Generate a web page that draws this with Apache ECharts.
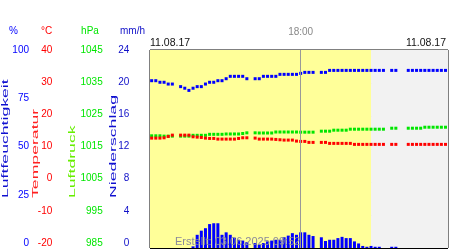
<!DOCTYPE html>
<html><head><meta charset="utf-8">
<script src="https://cdn.jsdelivr.net/npm/echarts@6/dist/echarts.min.js"></script>
<style>html,body{margin:0;padding:0;background:#fff}#c{width:450px;height:250px}</style>
</head><body><div id="c"></div>
<script>
// ---- data (10-minute steps from 12:00, index 0..71) ----
const dateLabel = '11.08.17';
const midLabel = '18:00';
const midIndex = 36;       // 18:00
const sunsetIndex = 53;    // ~20:50
const createdText = 'Erstellt: 03.06.2025 09:52';
const N = null;

const humidity = [84.5,84.5,83.7,83.7,82.8,82.8,N,81.5,80.7,79.6,80.7,81.5,81.5,82.8,83.7,83.7,84.5,84.5,85.5,86.7,86.7,86.7,86.7,85.5,N,85.5,85.5,86.7,86.7,86.7,86.7,87.7,87.7,87.7,87.7,87.7,
  88.2,88.7,88.7,88.7,N,88.7,88.7,89.7,89.7,89.7,89.7,89.7,89.7,89.7,89.7,89.7,89.7,89.7,89.7,89.7,89.7,N,89.7,89.7,N,N,89.7,89.7,89.7,89.7,89.7,89.7,89.7,89.7,89.7,89.7];
const temperature = [13.3,13.3,13.3,13.4,13.8,14.2,N,14.2,14.2,14.2,13.7,13.6,13.5,13.3,13.2,13.2,13.0,13.0,13.0,13.0,13.0,13.2,13.4,13.4,N,13.3,13.0,13.0,13.0,13.0,12.9,12.8,12.7,12.7,12.7,12.4,
  12.3,12.3,12.0,12.0,N,12.0,12.0,11.7,11.7,11.7,11.7,11.7,11.7,11.4,11.4,11.4,11.4,11.4,11.4,11.4,11.4,N,11.4,11.4,N,N,11.4,11.4,11.4,11.4,11.4,11.4,11.4,11.4,11.4,11.4];
const pressure = [1019.0,1019.0,1019.0,1018.9,1018.9,1018.9,N,1018.9,1018.9,1018.9,1019.15,1019.15,1019.15,1019.15,1019.45,1019.45,1019.45,1019.45,1019.55,1019.55,1019.55,1019.55,1019.7,1019.9,N,1019.9,1019.85,1019.85,1019.85,1019.85,1020.15,1020.15,1020.15,1020.15,1020.15,1020.15,
  1020.1,1020.1,1020.1,1020.1,N,1020.4,1020.4,1020.4,1020.7,1020.7,1020.7,1020.7,1021.0,1021.0,1021.0,1021.0,1021.0,1021.0,1021.0,1021.0,1021.0,N,1021.3,1021.3,N,N,1021.3,1021.3,1021.3,1021.3,1021.6,1021.6,1021.6,1021.6,1021.6,1021.6];
const precipitation = [0,0,0,0,0,0,N,0,0,0,0.2,1.6,2.1,2.4,2.9,3.0,3.0,1.6,1.9,1.6,1.25,1.0,0.9,0.7,N,0.6,0.4,0.6,0.8,0.9,1.0,1.0,1.3,1.5,1.8,1.6,
  1.9,1.9,1.6,1.45,N,1.3,0.85,1.0,1.0,1.2,1.35,1.2,1.2,0.8,0.55,0.25,0.15,0.25,0.15,0.15,0,N,0.15,0.15,N,N,0,0,0,0,0,0,0,0,0,0];

const humidityTicks = [0,25,50,75,100];
const temperatureTicks = [-20,-10,0,10,20,30,40];
const pressureTicks = [985,995,1005,1015,1025,1035,1045];
const precipitationTicks = [0,4,8,12,16,20,24];

// ---- chart ----
const FONT = 'Liberation Sans, Arial, sans-serif';
const BLUE = '#0000ff', RED = '#ff0000', GREEN = '#00e600', DBLUE = '#1010c8';
const xMin = -0.4, xMax = humidity.length - 0.4;
const pts = arr => arr.map((v, i) => [i, v == null ? '-' : v]);
const first = a => a[0], last = a => a[a.length - 1];

function labelAxis(ticks, interval, offset, color, fmt) {
  return {
    type: 'value', gridIndex: 1, position: 'left', offset: offset,
    min: first(ticks), max: last(ticks), interval: interval,
    axisLine: {show: false}, axisTick: {show: false}, splitLine: {show: false},
    axisLabel: {margin: 0, fontSize: 10, fontFamily: FONT, color: color,
      formatter: fmt || (v => String(v))}
  };
}
function dataAxis(ticks, extra) {
  return Object.assign({type: 'value', gridIndex: 0, min: first(ticks), max: last(ticks), show: false}, extra || {});
}

const chart = echarts.init(document.getElementById('c'), null, {renderer: 'canvas', width: 450, height: 250});
const square = (name, arr, color, yi) => ({
  name, type: 'scatter', xAxisIndex: 0, yAxisIndex: yi, data: pts(arr),
  symbol: 'rect', symbolSize: 3, itemStyle: {color: color, opacity: 1}, z: 3, silent: true
});

function rotTitle(text, x, color) {
  return {type: 'text', x: x, y: 198, rotation: Math.PI / 2, scaleX: 1.96, scaleY: 1,
    style: {text: text, fill: color, font: '9px ' + FONT, fontSize: 9, fontFamily: FONT,
      textAlign: 'left', textVerticalAlign: 'middle', align: 'left', verticalAlign: 'middle'}};
}
function txt(text, x, y, color, size, align) {
  return {type: 'text', x: x, y: y,
    style: {text: text, fill: color, font: size + 'px ' + FONT, fontSize: size, fontFamily: FONT,
      textAlign: align, textVerticalAlign: 'middle', align: align, verticalAlign: 'middle'}};
}

chart.setOption({
  animation: false,
  grid: [
    {left: 150, top: 50, width: 298, height: 198, show: true, borderColor: '#000', borderWidth: 1, backgroundColor: 'transparent'},
    {left: 150, top: 50, width: 298, height: 193, show: false}
  ],
  xAxis: [
    {type: 'value', gridIndex: 0, min: xMin, max: xMax, show: false},
    {type: 'value', gridIndex: 1, min: 0, max: 1, show: false}
  ],
  yAxis: [
    dataAxis(humidityTicks),
    dataAxis(temperatureTicks),
    dataAxis(pressureTicks),
    dataAxis(precipitationTicks, {show: true, interval: 4, axisLine: {show: false}, axisTick: {show: false},
      axisLabel: {show: false}, splitLine: {show: true, lineStyle: {color: '#000', width: 1}}}),
    labelAxis(humidityTicks, 25, 121, BLUE),
    labelAxis(temperatureTicks, 10, 97.7, RED),
    labelAxis(pressureTicks, 5, 47.3, GREEN, v => pressureTicks.indexOf(v) >= 0 ? String(v) : ''),
    labelAxis(precipitationTicks, 4, 20.7, DBLUE)
  ],
  series: [
    {type: 'line', xAxisIndex: 0, yAxisIndex: 0, data: [], z: -1, silent: true,
      markArea: {silent: true, data: [
        [{xAxis: xMin, itemStyle: {color: '#ffff99'}}, {xAxis: sunsetIndex}],
        [{xAxis: sunsetIndex, itemStyle: {color: '#f2f2f2'}}, {xAxis: xMax}]
      ]}},
    {name: 'Niederschlag', type: 'bar', xAxisIndex: 0, yAxisIndex: 3, data: pts(precipitation),
      barWidth: 3, itemStyle: {color: BLUE}, z: 2, silent: true,
      markLine: {silent: true, symbol: 'none', lineStyle: {color: '#999', width: 1, type: 'solid'},
        label: {show: true, position: 'end', formatter: midLabel, color: '#888', fontSize: 10, fontFamily: FONT, distance: 13},
        data: [{xAxis: midIndex}]}},
    square('Luftdruck', pressure, GREEN, 2),
    square('Temperatur', temperature, RED, 1),
    square('Luftfeuchtigkeit', humidity, BLUE, 0)
  ],
  graphic: [
    txt('%', 13.5, 31, BLUE, 10, 'center'),
    txt('°C', 46.5, 31, RED, 10, 'center'),
    txt('hPa', 90, 31, GREEN, 10, 'center'),
    txt('mm/h', 132.5, 31, DBLUE, 10, 'center'),
    rotTitle('Luftfeuchtigkeit', 5.5, '#1010d0'),
    rotTitle('Temperatur', 36, '#ff2020'),
    rotTitle('Luftdruck', 72.5, '#66ee00'),
    rotTitle('Niederschlag', 114, '#1010d0'),
    txt(dateLabel, 150, 43.5, '#111', 10.5, 'left'),
    txt(dateLabel, 446, 43.5, '#111', 10.5, 'right'),
    Object.assign(txt(createdText, 175, 241.5, '#8a8a9a', 11, 'left'), {z: 100})
  ]
});
</script></body></html>
